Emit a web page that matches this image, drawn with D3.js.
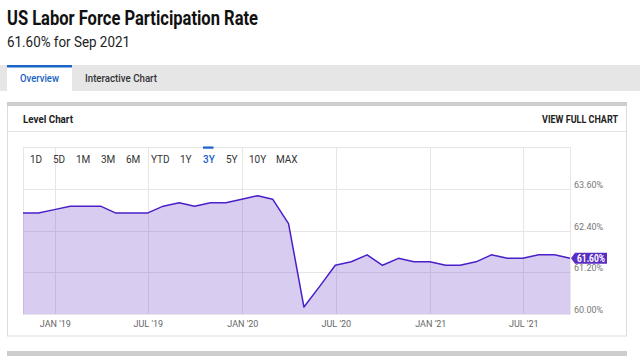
<!DOCTYPE html>
<html>
<head>
<meta charset="utf-8">
<script src="https://cdn.jsdelivr.net/npm/d3@7"></script>
<style>
  html, body { margin: 0; padding: 0; background: #fff; }
  svg { display: block; font-family: Roboto, "Noto Sans", sans-serif; }
</style>
</head>
<body>
<svg id="chart" width="640" height="356"></svg>
<script>
// ---- data ----
const months = ["2018-10","2018-11","2018-12","2019-01","2019-02","2019-03","2019-04","2019-05","2019-06",
  "2019-07","2019-08","2019-09","2019-10","2019-11","2019-12","2020-01","2020-02","2020-03","2020-04",
  "2020-05","2020-06","2020-07","2020-08","2020-09","2020-10","2020-11","2020-12","2021-01","2021-02",
  "2021-03","2021-04","2021-05","2021-06","2021-07","2021-08","2021-09"];
const rates = [62.9,62.9,63.0,63.1,63.1,63.1,62.9,62.9,62.9,
  63.1,63.2,63.1,63.2,63.2,63.3,63.4,63.3,62.6,60.2,
  60.8,61.4,61.5,61.7,61.4,61.6,61.5,61.5,61.4,61.4,
  61.5,61.7,61.6,61.6,61.7,61.7,61.6];
const yTicks = [60.0, 61.2, 62.4, 63.6];
const xTickDates = ["2019-01-01","2019-07-01","2020-01-01","2020-07-01","2021-01-01","2021-07-01"];
const xTickLabels = ["JAN '19","JUL '19","JAN '20","JUL '20","JAN '21","JUL '21"];
const rangeButtons = ["1D","5D","1M","3M","6M","YTD","1Y","3Y","5Y","10Y","MAX"];
const activeRange = "3Y";
const titleText = "US Labor Force Participation Rate";
const subtitleText = "61.60% for Sep 2021";
const tabs = ["Overview", "Interactive Chart"];

// month-end dates
const parseMonth = d3.timeParse("%Y-%m");
const data = months.map((m, i) => ({
  date: d3.timeDay.offset(d3.timeMonth.offset(parseMonth(m), 1), -1),
  value: rates[i]
}));

const svg = d3.select("#chart");

// ---- page header ----
svg.append("text").attr("x", 7).attr("y", 25)
  .attr("font-size", 21).attr("font-weight", 700).attr("fill", "#111")
  .attr("textLength", 251).attr("lengthAdjust", "spacingAndGlyphs")
  .text(titleText);
svg.append("text").attr("x", 7).attr("y", 47)
  .attr("font-size", 15.5).attr("fill", "#222")
  .attr("textLength", 123).attr("lengthAdjust", "spacingAndGlyphs")
  .text(subtitleText);

// tabs
svg.append("rect").attr("x", 0).attr("y", 65).attr("width", 640).attr("height", 26).attr("fill", "#e6e6e6");
svg.append("rect").attr("x", 7).attr("y", 65).attr("width", 65).attr("height", 26).attr("fill", "#fff");
svg.append("rect").attr("x", 7).attr("y", 65).attr("width", 65).attr("height", 2.5).attr("fill", "#1a66c8");
svg.append("text").attr("x", 20).attr("y", 82).attr("font-size", 11).attr("font-weight", 500)
  .attr("fill", "#1a5fc0").attr("textLength", 39).attr("lengthAdjust", "spacingAndGlyphs").text(tabs[0]);
svg.append("text").attr("x", 85).attr("y", 82).attr("font-size", 11).attr("font-weight", 500)
  .attr("fill", "#333").attr("textLength", 72).attr("lengthAdjust", "spacingAndGlyphs").text(tabs[1]);

// panel
svg.append("rect").attr("x", 7.5).attr("y", 102.5).attr("width", 619).attr("height", 233.5)
  .attr("fill", "#fff").attr("stroke", "#dcdcdc");
svg.append("rect").attr("x", 7).attr("y", 102).attr("width", 620).attr("height", 4).attr("fill", "#cdcdcd");
svg.append("line").attr("x1", 8).attr("x2", 626).attr("y1", 131.5).attr("y2", 131.5).attr("stroke", "#e3e3e3");
svg.append("text").attr("x", 23).attr("y", 123).attr("font-size", 11).attr("font-weight", 700)
  .attr("fill", "#222").attr("textLength", 50).attr("lengthAdjust", "spacingAndGlyphs").text("Level Chart");
svg.append("text").attr("x", 542).attr("y", 123).attr("font-size", 11).attr("font-weight", 700)
  .attr("fill", "#222").attr("textLength", 76).attr("lengthAdjust", "spacingAndGlyphs").text("VIEW FULL CHART");
svg.append("rect").attr("x", 7).attr("y", 351).attr("width", 620).attr("height", 5).attr("fill", "#cdcdcd");

// ---- chart ----
const plot = { left: 23, right: 570, top: 147, bottom: 314 };
const x = d3.scaleTime()
  .domain([data[0].date, data[data.length - 1].date])
  .range([plot.left, plot.right]);
const y = d3.scaleLinear().domain([60, 64.8]).range([plot.bottom, plot.top]);

const g = svg.append("g");

// plot frame
g.append("rect").attr("x", plot.left + 0.5).attr("y", plot.top + 0.5)
  .attr("width", plot.right - plot.left).attr("height", plot.bottom - plot.top)
  .attr("fill", "none").attr("stroke", "#e6e6e6");

// gridlines
const xTicks = xTickDates.map(d => d3.timeParse("%Y-%m-%d")(d));
g.selectAll(".vgrid").data(xTicks).join("line")
  .attr("x1", d => Math.round(x(d)) + 0.5).attr("x2", d => Math.round(x(d)) + 0.5)
  .attr("y1", plot.top).attr("y2", plot.bottom)
  .attr("stroke", "#e6e6e6");
g.selectAll(".hgrid").data(yTicks.slice(1)).join("line")
  .attr("x1", plot.left).attr("x2", plot.right)
  .attr("y1", d => Math.round(y(d)) + 0.5).attr("y2", d => Math.round(y(d)) + 0.5)
  .attr("stroke", "#e6e6e6");

// area + line
const area = d3.area().x(d => x(d.date)).y0(plot.bottom).y1(d => y(d.value));
const line = d3.line().x(d => x(d.date)).y(d => y(d.value));
g.append("path").datum(data).attr("d", area).attr("fill", "rgb(110,70,200)").attr("fill-opacity", 0.27);
g.append("path").datum(data).attr("d", line).attr("fill", "none")
  .attr("stroke", "#4a1fc8").attr("stroke-width", 1.5).attr("stroke-linejoin", "round");

// x axis labels
const xAxis = d3.axisBottom(x).tickValues(xTicks).tickSize(0).tickPadding(0)
  .tickFormat((d, i) => xTickLabels[i]);
const xg = g.append("g").attr("transform", `translate(0,${plot.bottom})`).call(xAxis);
xg.select(".domain").remove();
xg.selectAll("text").attr("y", 13).attr("dy", 0).attr("font-size", 9).attr("fill", "#666")
  .attr("font-family", "Roboto, sans-serif");

// y axis labels
const yAxis = d3.axisRight(y).tickValues(yTicks).tickSize(0).tickPadding(0)
  .tickFormat(d => d3.format(".2f")(d) + "%");
const yg = g.append("g").attr("transform", `translate(${plot.right + 4},0)`).call(yAxis);
yg.select(".domain").remove();
yg.selectAll("text").attr("x", 0).attr("dy", -1.5).attr("font-size", 9).attr("fill", "#777")
  .attr("font-family", "Roboto, sans-serif");

// range buttons
const btnX = [30, 53, 76, 101, 126, 151, 180, 203, 226, 249, 276];
rangeButtons.forEach((b, i) => {
  svg.append("text").attr("x", btnX[i]).attr("y", 162.5).attr("font-size", 10)
    .attr("fill", b === activeRange ? "#1a5fc8" : "#333")
    .attr("font-weight", b === activeRange ? 500 : 400).text(b);
  if (b === activeRange) {
    svg.append("rect").attr("x", btnX[i]).attr("y", 146.5).attr("width", 10.5).attr("height", 2.2).attr("fill", "#1a5fc8");
  }
});

// last value badge
const last = data[data.length - 1];
const by = y(last.value);
const bx = x(last.date) + 1;
svg.append("path")
  .attr("d", `M${bx},${by} L${bx + 4},${by - 5.5} L${bx + 36},${by - 5.5} L${bx + 36},${by + 5.5} L${bx + 4},${by + 5.5} Z`)
  .attr("fill", "#5a2dc2");
svg.append("text").attr("x", bx + 6).attr("y", by + 3.5).attr("font-size", 10).attr("font-weight", 700)
  .attr("fill", "#fff").attr("textLength", 28).attr("lengthAdjust", "spacingAndGlyphs")
  .text(d3.format(".2f")(last.value) + "%");
</script>
</body>
</html>
